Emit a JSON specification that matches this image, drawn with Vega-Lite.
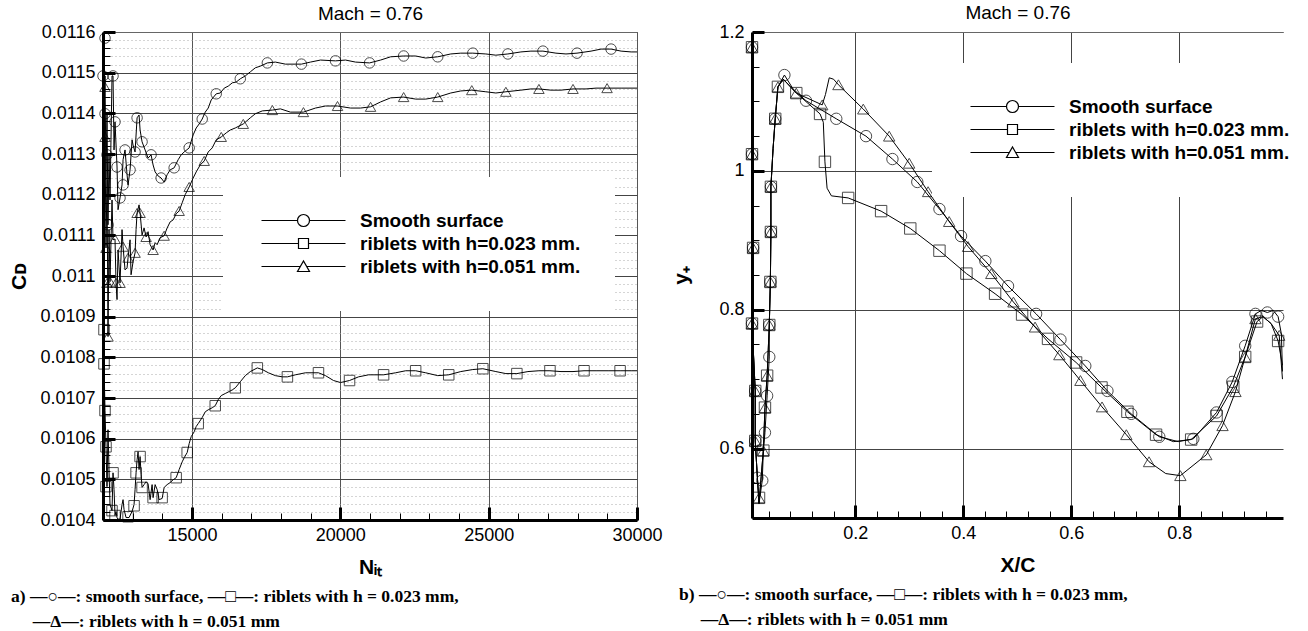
{
  "$schema": "https://vega.github.io/schema/vega-lite/v6.json",
  "padding": {"left": 8, "top": 3, "right": 0, "bottom": 0},
  "background": "white",
  "spacing": 6,
  "resolve": {"scale": {"shape": "independent"}, "legend": {"shape": "independent"}},
  "config": {
    "font": "Liberation Sans",
    "view": {"stroke": null},
    "axis": {"labelFont": "Liberation Sans", "labelFontSize": 18, "labelColor": "black", "titleColor": "black", "titleFont": "Liberation Sans", "domainColor": "black", "tickColor": "black", "labelOverlap": false, "labelFlush": false, "tickCount": 200},
    "title": {"orient": "bottom", "anchor": "start", "font": "Liberation Serif", "fontSize": 17.5, "fontWeight": "bold", "lineHeight": 25, "offset": 11, "color": "black"},
    "legend": {"orient": "none", "labelFont": "Liberation Sans", "labelFontSize": 19, "labelFontWeight": "bold", "labelColor": "black", "labelLimit": 500, "symbolSize": 100, "symbolStrokeWidth": 1.2, "symbolStrokeColor": "black", "symbolOpacity": 1, "labelOffset": 84, "rowPadding": 3, "padding": 34, "fillColor": "white"}
  },
  "datasets": {
    "cdl": [
      {"s":"a","n":12000,"cd":0.011585},{"s":"a","n":12034,"cd":0.011384},{"s":"a","n":12068,"cd":0.011492},{"s":"a","n":12101,"cd":0.011236},{"s":"a","n":12135,"cd":0.011399},{"s":"a","n":12169,"cd":0.011126},{"s":"a","n":12203,"cd":0.011298},{"s":"a","n":12236,"cd":0.011187},{"s":"a","n":12304,"cd":0.011492},{"s":"a","n":12338,"cd":0.011492},{"s":"a","n":12372,"cd":0.01131},{"s":"a","n":12405,"cd":0.011379},{"s":"a","n":12473,"cd":0.011268},{"s":"a","n":12507,"cd":0.011163},{"s":"a","n":12574,"cd":0.011192},{"s":"a","n":12642,"cd":0.011224},{"s":"a","n":12676,"cd":0.011286},{"s":"a","n":12743,"cd":0.01131},{"s":"a","n":12811,"cd":0.011249},{"s":"a","n":12845,"cd":0.011224},{"s":"a","n":12912,"cd":0.011261},{"s":"a","n":12980,"cd":0.011335},{"s":"a","n":13013,"cd":0.011322},{"s":"a","n":13081,"cd":0.011305},{"s":"a","n":13149,"cd":0.011389},{"s":"a","n":13216,"cd":0.011396},{"s":"a","n":13250,"cd":0.011359},{"s":"a","n":13317,"cd":0.01133},{"s":"a","n":13419,"cd":0.01131},{"s":"a","n":13520,"cd":0.01129},{"s":"a","n":13621,"cd":0.011298},{"s":"a","n":13689,"cd":0.011273},{"s":"a","n":13757,"cd":0.011256},{"s":"a","n":13858,"cd":0.011246},{"s":"a","n":13959,"cd":0.011241},{"s":"a","n":14061,"cd":0.011231},{"s":"a","n":14162,"cd":0.011249},{"s":"a","n":14263,"cd":0.011261},{"s":"a","n":14398,"cd":0.011266},{"s":"a","n":14534,"cd":0.011286},{"s":"a","n":14635,"cd":0.011298},{"s":"a","n":14736,"cd":0.011305},{"s":"a","n":14905,"cd":0.011315},{"s":"a","n":15040,"cd":0.011347},{"s":"a","n":15142,"cd":0.011364},{"s":"a","n":15243,"cd":0.011374},{"s":"a","n":15344,"cd":0.011386},{"s":"a","n":15446,"cd":0.011403},{"s":"a","n":15547,"cd":0.011413},{"s":"a","n":15648,"cd":0.011433},{"s":"a","n":15817,"cd":0.011448},{"s":"a","n":15952,"cd":0.01145},{"s":"a","n":16087,"cd":0.011462},{"s":"a","n":16223,"cd":0.011467},{"s":"a","n":16358,"cd":0.011475},{"s":"a","n":16493,"cd":0.011477},{"s":"a","n":16628,"cd":0.011485},{"s":"a","n":16797,"cd":0.011492},{"s":"a","n":16966,"cd":0.011502},{"s":"a","n":17135,"cd":0.011512},{"s":"a","n":17303,"cd":0.011516},{"s":"a","n":17540,"cd":0.011524},{"s":"a","n":17810,"cd":0.011526},{"s":"a","n":18148,"cd":0.011521},{"s":"a","n":18486,"cd":0.011521},{"s":"a","n":18688,"cd":0.011521},{"s":"a","n":18992,"cd":0.011526},{"s":"a","n":19330,"cd":0.011531},{"s":"a","n":19837,"cd":0.011529},{"s":"a","n":20175,"cd":0.011531},{"s":"a","n":20513,"cd":0.011526},{"s":"a","n":20986,"cd":0.011524},{"s":"a","n":21357,"cd":0.011531},{"s":"a","n":21695,"cd":0.011539},{"s":"a","n":22134,"cd":0.011541},{"s":"a","n":22539,"cd":0.011541},{"s":"a","n":22877,"cd":0.011536},{"s":"a","n":23283,"cd":0.011539},{"s":"a","n":23722,"cd":0.011546},{"s":"a","n":24059,"cd":0.011548},{"s":"a","n":24465,"cd":0.011548},{"s":"a","n":24904,"cd":0.011546},{"s":"a","n":25242,"cd":0.011543},{"s":"a","n":25647,"cd":0.011546},{"s":"a","n":26086,"cd":0.011551},{"s":"a","n":26424,"cd":0.011553},{"s":"a","n":26829,"cd":0.011553},{"s":"a","n":27268,"cd":0.011548},{"s":"a","n":27606,"cd":0.011546},{"s":"a","n":27978,"cd":0.011548},{"s":"a","n":28451,"cd":0.011553},{"s":"a","n":28789,"cd":0.011558},{"s":"a","n":29126,"cd":0.011558},{"s":"a","n":29464,"cd":0.011553},{"s":"a","n":29802,"cd":0.011551},{"s":"a","n":30000,"cd":0.011551},
      {"s":"b","n":12000,"cd":0.010868},{"s":"b","n":12034,"cd":0.010784},{"s":"b","n":12068,"cd":0.010669},{"s":"b","n":12101,"cd":0.01058},{"s":"b","n":12135,"cd":0.010482},{"s":"b","n":12169,"cd":0.010622},{"s":"b","n":12203,"cd":0.010524},{"s":"b","n":12236,"cd":0.010438},{"s":"b","n":12304,"cd":0.010423},{"s":"b","n":12338,"cd":0.010516},{"s":"b","n":12372,"cd":0.010475},{"s":"b","n":12405,"cd":0.010411},{"s":"b","n":12439,"cd":0.010421},{"s":"b","n":12473,"cd":0.010406},{"s":"b","n":12507,"cd":0.010402},{"s":"b","n":12574,"cd":0.010402},{"s":"b","n":12642,"cd":0.010438},{"s":"b","n":12676,"cd":0.01045},{"s":"b","n":12709,"cd":0.010426},{"s":"b","n":12777,"cd":0.010406},{"s":"b","n":12878,"cd":0.010406},{"s":"b","n":12980,"cd":0.010421},{"s":"b","n":13047,"cd":0.010438},{"s":"b","n":13081,"cd":0.010475},{"s":"b","n":13115,"cd":0.010516},{"s":"b","n":13149,"cd":0.010548},{"s":"b","n":13182,"cd":0.010568},{"s":"b","n":13216,"cd":0.010524},{"s":"b","n":13250,"cd":0.010556},{"s":"b","n":13284,"cd":0.010512},{"s":"b","n":13317,"cd":0.01048},{"s":"b","n":13385,"cd":0.010487},{"s":"b","n":13453,"cd":0.010494},{"s":"b","n":13520,"cd":0.010489},{"s":"b","n":13588,"cd":0.01045},{"s":"b","n":13655,"cd":0.010487},{"s":"b","n":13689,"cd":0.010455},{"s":"b","n":13757,"cd":0.010487},{"s":"b","n":13824,"cd":0.010475},{"s":"b","n":13892,"cd":0.01045},{"s":"b","n":13993,"cd":0.010453},{"s":"b","n":14061,"cd":0.01048},{"s":"b","n":14162,"cd":0.010487},{"s":"b","n":14263,"cd":0.010492},{"s":"b","n":14365,"cd":0.010499},{"s":"b","n":14466,"cd":0.010504},{"s":"b","n":14567,"cd":0.010524},{"s":"b","n":14669,"cd":0.010543},{"s":"b","n":14736,"cd":0.010553},{"s":"b","n":14838,"cd":0.010566},{"s":"b","n":14905,"cd":0.010588},{"s":"b","n":14973,"cd":0.010605},{"s":"b","n":15074,"cd":0.010617},{"s":"b","n":15142,"cd":0.01063},{"s":"b","n":15209,"cd":0.010637},{"s":"b","n":15344,"cd":0.010652},{"s":"b","n":15446,"cd":0.010666},{"s":"b","n":15547,"cd":0.010671},{"s":"b","n":15682,"cd":0.010676},{"s":"b","n":15783,"cd":0.010681},{"s":"b","n":15885,"cd":0.010696},{"s":"b","n":15986,"cd":0.010706},{"s":"b","n":16121,"cd":0.010711},{"s":"b","n":16256,"cd":0.010716},{"s":"b","n":16358,"cd":0.01072},{"s":"b","n":16459,"cd":0.010725},{"s":"b","n":16628,"cd":0.01074},{"s":"b","n":16797,"cd":0.010755},{"s":"b","n":16966,"cd":0.010765},{"s":"b","n":17202,"cd":0.010774},{"s":"b","n":17371,"cd":0.01077},{"s":"b","n":17574,"cd":0.010762},{"s":"b","n":17810,"cd":0.010755},{"s":"b","n":18047,"cd":0.010752},{"s":"b","n":18216,"cd":0.010752},{"s":"b","n":18486,"cd":0.010757},{"s":"b","n":18824,"cd":0.010762},{"s":"b","n":19263,"cd":0.010762},{"s":"b","n":19499,"cd":0.010755},{"s":"b","n":19769,"cd":0.010743},{"s":"b","n":20006,"cd":0.010738},{"s":"b","n":20310,"cd":0.010743},{"s":"b","n":20614,"cd":0.010752},{"s":"b","n":20952,"cd":0.010757},{"s":"b","n":21458,"cd":0.010757},{"s":"b","n":21864,"cd":0.010762},{"s":"b","n":22202,"cd":0.010767},{"s":"b","n":22539,"cd":0.010767},{"s":"b","n":22877,"cd":0.010762},{"s":"b","n":23283,"cd":0.010755},{"s":"b","n":23654,"cd":0.010757},{"s":"b","n":24059,"cd":0.010765},{"s":"b","n":24465,"cd":0.01077},{"s":"b","n":24803,"cd":0.010772},{"s":"b","n":25242,"cd":0.010765},{"s":"b","n":25580,"cd":0.01076},{"s":"b","n":25951,"cd":0.01076},{"s":"b","n":26323,"cd":0.010765},{"s":"b","n":26694,"cd":0.010767},{"s":"b","n":27066,"cd":0.010767},{"s":"b","n":27438,"cd":0.010765},{"s":"b","n":27843,"cd":0.010765},{"s":"b","n":28214,"cd":0.010767},{"s":"b","n":28620,"cd":0.010767},{"s":"b","n":29025,"cd":0.010767},{"s":"b","n":29430,"cd":0.010767},{"s":"b","n":29802,"cd":0.010767},{"s":"b","n":30000,"cd":0.010767},
      {"s":"c","n":12000,"cd":0.011465},{"s":"c","n":12034,"cd":0.011187},{"s":"c","n":12068,"cd":0.011342},{"s":"c","n":12101,"cd":0.011069},{"s":"c","n":12135,"cd":0.011236},{"s":"c","n":12169,"cd":0.010851},{"s":"c","n":12203,"cd":0.011114},{"s":"c","n":12236,"cd":0.010986},{"s":"c","n":12304,"cd":0.011187},{"s":"c","n":12338,"cd":0.011089},{"s":"c","n":12405,"cd":0.011091},{"s":"c","n":12439,"cd":0.010983},{"s":"c","n":12473,"cd":0.010942},{"s":"c","n":12507,"cd":0.011064},{"s":"c","n":12574,"cd":0.010983},{"s":"c","n":12642,"cd":0.011114},{"s":"c","n":12676,"cd":0.011072},{"s":"c","n":12743,"cd":0.011015},{"s":"c","n":12811,"cd":0.01102},{"s":"c","n":12845,"cd":0.011045},{"s":"c","n":12912,"cd":0.011089},{"s":"c","n":12946,"cd":0.011003},{"s":"c","n":13013,"cd":0.011035},{"s":"c","n":13081,"cd":0.011057},{"s":"c","n":13115,"cd":0.011114},{"s":"c","n":13149,"cd":0.011155},{"s":"c","n":13216,"cd":0.011175},{"s":"c","n":13250,"cd":0.011155},{"s":"c","n":13317,"cd":0.011101},{"s":"c","n":13385,"cd":0.011118},{"s":"c","n":13453,"cd":0.011096},{"s":"c","n":13520,"cd":0.011109},{"s":"c","n":13588,"cd":0.011077},{"s":"c","n":13689,"cd":0.011064},{"s":"c","n":13757,"cd":0.011082},{"s":"c","n":13824,"cd":0.011077},{"s":"c","n":13925,"cd":0.011094},{"s":"c","n":14061,"cd":0.011099},{"s":"c","n":14162,"cd":0.011118},{"s":"c","n":14263,"cd":0.011133},{"s":"c","n":14365,"cd":0.011138},{"s":"c","n":14466,"cd":0.011153},{"s":"c","n":14567,"cd":0.01116},{"s":"c","n":14669,"cd":0.01118},{"s":"c","n":14770,"cd":0.0112},{"s":"c","n":14905,"cd":0.011219},{"s":"c","n":15040,"cd":0.011241},{"s":"c","n":15142,"cd":0.011256},{"s":"c","n":15277,"cd":0.011273},{"s":"c","n":15412,"cd":0.011283},{"s":"c","n":15547,"cd":0.011305},{"s":"c","n":15682,"cd":0.011315},{"s":"c","n":15817,"cd":0.011335},{"s":"c","n":15986,"cd":0.011342},{"s":"c","n":16155,"cd":0.011352},{"s":"c","n":16290,"cd":0.011359},{"s":"c","n":16459,"cd":0.011364},{"s":"c","n":16729,"cd":0.011374},{"s":"c","n":16966,"cd":0.011389},{"s":"c","n":17135,"cd":0.011399},{"s":"c","n":17371,"cd":0.011406},{"s":"c","n":17709,"cd":0.011408},{"s":"c","n":17979,"cd":0.011411},{"s":"c","n":18317,"cd":0.011403},{"s":"c","n":18756,"cd":0.011403},{"s":"c","n":19161,"cd":0.011413},{"s":"c","n":19499,"cd":0.011418},{"s":"c","n":19905,"cd":0.011418},{"s":"c","n":20344,"cd":0.011413},{"s":"c","n":20681,"cd":0.011413},{"s":"c","n":21019,"cd":0.011416},{"s":"c","n":21357,"cd":0.011428},{"s":"c","n":21695,"cd":0.011438},{"s":"c","n":22134,"cd":0.01144},{"s":"c","n":22539,"cd":0.011435},{"s":"c","n":22877,"cd":0.011435},{"s":"c","n":23283,"cd":0.01144},{"s":"c","n":23722,"cd":0.01145},{"s":"c","n":24059,"cd":0.011455},{"s":"c","n":24431,"cd":0.011457},{"s":"c","n":24904,"cd":0.011453},{"s":"c","n":25242,"cd":0.01145},{"s":"c","n":25580,"cd":0.011453},{"s":"c","n":26086,"cd":0.011457},{"s":"c","n":26424,"cd":0.01146},{"s":"c","n":26694,"cd":0.01146},{"s":"c","n":27100,"cd":0.011457},{"s":"c","n":27438,"cd":0.011457},{"s":"c","n":27843,"cd":0.01146},{"s":"c","n":28282,"cd":0.01146},{"s":"c","n":28620,"cd":0.011462},{"s":"c","n":28991,"cd":0.011462},{"s":"c","n":29464,"cd":0.011462},{"s":"c","n":30000,"cd":0.011462}
    ],
    "cdm": [
      {"s":"a","n":12068,"cd":0.011585},{"s":"a","n":12000,"cd":0.011492},{"s":"a","n":12338,"cd":0.011492},{"s":"a","n":12068,"cd":0.011399},{"s":"a","n":12405,"cd":0.011379},{"s":"a","n":12135,"cd":0.011298},{"s":"a","n":12473,"cd":0.011268},{"s":"a","n":12676,"cd":0.011224},{"s":"a","n":12574,"cd":0.011192},{"s":"a","n":12169,"cd":0.011126},{"s":"a","n":12743,"cd":0.01131},{"s":"a","n":12912,"cd":0.011261},{"s":"a","n":13081,"cd":0.011305},{"s":"a","n":13149,"cd":0.011389},{"s":"a","n":13317,"cd":0.01133},{"s":"a","n":13621,"cd":0.011298},{"s":"a","n":13959,"cd":0.011241},{"s":"a","n":14398,"cd":0.011266},{"s":"a","n":14905,"cd":0.011315},{"s":"a","n":15344,"cd":0.011386},{"s":"a","n":15817,"cd":0.011448},{"s":"a","n":16628,"cd":0.011485},{"s":"a","n":17540,"cd":0.011524},{"s":"a","n":18688,"cd":0.011521},{"s":"a","n":19837,"cd":0.011529},{"s":"a","n":20986,"cd":0.011524},{"s":"a","n":22134,"cd":0.011541},{"s":"a","n":23283,"cd":0.011539},{"s":"a","n":24465,"cd":0.011548},{"s":"a","n":25647,"cd":0.011546},{"s":"a","n":26829,"cd":0.011553},{"s":"a","n":27978,"cd":0.011548},{"s":"a","n":29126,"cd":0.011558},
      {"s":"b","n":12034,"cd":0.010868},{"s":"b","n":12034,"cd":0.010784},{"s":"b","n":12068,"cd":0.010669},{"s":"b","n":12101,"cd":0.01058},{"s":"b","n":12101,"cd":0.010482},{"s":"b","n":12338,"cd":0.010516},{"s":"b","n":12304,"cd":0.010423},{"s":"b","n":12405,"cd":0.010411},{"s":"b","n":12845,"cd":0.010408},{"s":"b","n":13047,"cd":0.010435},{"s":"b","n":13115,"cd":0.010516},{"s":"b","n":13250,"cd":0.010556},{"s":"b","n":13317,"cd":0.01048},{"s":"b","n":13689,"cd":0.010455},{"s":"b","n":13993,"cd":0.010455},{"s":"b","n":14466,"cd":0.010504},{"s":"b","n":14838,"cd":0.010566},{"s":"b","n":15209,"cd":0.010637},{"s":"b","n":15783,"cd":0.010681},{"s":"b","n":16459,"cd":0.010725},{"s":"b","n":17202,"cd":0.010774},{"s":"b","n":18216,"cd":0.010752},{"s":"b","n":19263,"cd":0.010762},{"s":"b","n":20310,"cd":0.010743},{"s":"b","n":21458,"cd":0.010757},{"s":"b","n":22539,"cd":0.010767},{"s":"b","n":23654,"cd":0.010757},{"s":"b","n":24803,"cd":0.010772},{"s":"b","n":25951,"cd":0.01076},{"s":"b","n":27066,"cd":0.010767},{"s":"b","n":28214,"cd":0.010767},{"s":"b","n":29430,"cd":0.010767},
      {"s":"c","n":12068,"cd":0.011465},{"s":"c","n":12068,"cd":0.011342},{"s":"c","n":12101,"cd":0.011069},{"s":"c","n":12135,"cd":0.010983},{"s":"c","n":12169,"cd":0.010851},{"s":"c","n":12236,"cd":0.010986},{"s":"c","n":12405,"cd":0.011091},{"s":"c","n":12439,"cd":0.010983},{"s":"c","n":12574,"cd":0.010983},{"s":"c","n":12676,"cd":0.011072},{"s":"c","n":12845,"cd":0.011045},{"s":"c","n":13081,"cd":0.011057},{"s":"c","n":13149,"cd":0.011155},{"s":"c","n":13250,"cd":0.011155},{"s":"c","n":13453,"cd":0.011096},{"s":"c","n":13689,"cd":0.011064},{"s":"c","n":14061,"cd":0.011099},{"s":"c","n":14567,"cd":0.01116},{"s":"c","n":14905,"cd":0.011219},{"s":"c","n":15412,"cd":0.011283},{"s":"c","n":15986,"cd":0.011342},{"s":"c","n":16729,"cd":0.011374},{"s":"c","n":17709,"cd":0.011408},{"s":"c","n":18756,"cd":0.011403},{"s":"c","n":19905,"cd":0.011418},{"s":"c","n":21019,"cd":0.011416},{"s":"c","n":22134,"cd":0.01144},{"s":"c","n":23283,"cd":0.01144},{"s":"c","n":24431,"cd":0.011457},{"s":"c","n":25580,"cd":0.011453},{"s":"c","n":26694,"cd":0.01146},{"s":"c","n":27843,"cd":0.01146},{"s":"c","n":28991,"cd":0.011462}
    ],
    "ypl": [
      {"s":"a","x":0.009,"y":1.178},{"s":"a","x":0.009,"y":1.024},{"s":"a","x":0.011,"y":0.889},{"s":"a","x":0.009,"y":0.78},{"s":"a","x":0.015,"y":0.683},{"s":"a","x":0.015,"y":0.611},{"s":"a","x":0.019,"y":0.558},{"s":"a","x":0.022,"y":0.521},{"s":"a","x":0.028,"y":0.554},{"s":"a","x":0.03,"y":0.597},{"s":"a","x":0.033,"y":0.623},{"s":"a","x":0.037,"y":0.676},{"s":"a","x":0.041,"y":0.732},{"s":"a","x":0.041,"y":0.778},{"s":"a","x":0.043,"y":0.84},{"s":"a","x":0.044,"y":0.912},{"s":"a","x":0.044,"y":0.977},{"s":"a","x":0.048,"y":1.032},{"s":"a","x":0.052,"y":1.075},{"s":"a","x":0.057,"y":1.121},{"s":"a","x":0.069,"y":1.138},{"s":"a","x":0.085,"y":1.118},{"s":"a","x":0.109,"y":1.101},{"s":"a","x":0.165,"y":1.075},{"s":"a","x":0.22,"y":1.05},{"s":"a","x":0.269,"y":1.017},{"s":"a","x":0.315,"y":0.984},{"s":"a","x":0.356,"y":0.945},{"s":"a","x":0.396,"y":0.906},{"s":"a","x":0.441,"y":0.87},{"s":"a","x":0.483,"y":0.834},{"s":"a","x":0.535,"y":0.794},{"s":"a","x":0.58,"y":0.757},{"s":"a","x":0.626,"y":0.719},{"s":"a","x":0.667,"y":0.683},{"s":"a","x":0.711,"y":0.65},{"s":"a","x":0.763,"y":0.617},{"s":"a","x":0.798,"y":0.61},{"s":"a","x":0.826,"y":0.614},{"s":"a","x":0.869,"y":0.652},{"s":"a","x":0.898,"y":0.696},{"s":"a","x":0.922,"y":0.748},{"s":"a","x":0.941,"y":0.794},{"s":"a","x":0.952,"y":0.799},{"s":"a","x":0.963,"y":0.796},{"s":"a","x":0.974,"y":0.799},{"s":"a","x":0.983,"y":0.79},{"s":"a","x":0.989,"y":0.765},{"s":"a","x":0.991,"y":0.711},
      {"s":"b","x":0.009,"y":1.178},{"s":"b","x":0.009,"y":1.024},{"s":"b","x":0.011,"y":0.889},{"s":"b","x":0.009,"y":0.78},{"s":"b","x":0.015,"y":0.683},{"s":"b","x":0.015,"y":0.611},{"s":"b","x":0.019,"y":0.558},{"s":"b","x":0.022,"y":0.521},{"s":"b","x":0.026,"y":0.56},{"s":"b","x":0.03,"y":0.597},{"s":"b","x":0.033,"y":0.659},{"s":"b","x":0.037,"y":0.705},{"s":"b","x":0.041,"y":0.778},{"s":"b","x":0.043,"y":0.84},{"s":"b","x":0.044,"y":0.912},{"s":"b","x":0.044,"y":0.977},{"s":"b","x":0.048,"y":1.032},{"s":"b","x":0.052,"y":1.075},{"s":"b","x":0.057,"y":1.121},{"s":"b","x":0.067,"y":1.132},{"s":"b","x":0.091,"y":1.112},{"s":"b","x":0.135,"y":1.082},{"s":"b","x":0.141,"y":1.07},{"s":"b","x":0.144,"y":1.013},{"s":"b","x":0.148,"y":0.975},{"s":"b","x":0.156,"y":0.964},{"s":"b","x":0.187,"y":0.961},{"s":"b","x":0.248,"y":0.942},{"s":"b","x":0.302,"y":0.917},{"s":"b","x":0.356,"y":0.885},{"s":"b","x":0.406,"y":0.852},{"s":"b","x":0.459,"y":0.823},{"s":"b","x":0.509,"y":0.793},{"s":"b","x":0.557,"y":0.758},{"s":"b","x":0.609,"y":0.724},{"s":"b","x":0.656,"y":0.688},{"s":"b","x":0.704,"y":0.653},{"s":"b","x":0.757,"y":0.62},{"s":"b","x":0.789,"y":0.61},{"s":"b","x":0.822,"y":0.613},{"s":"b","x":0.869,"y":0.647},{"s":"b","x":0.9,"y":0.689},{"s":"b","x":0.922,"y":0.732},{"s":"b","x":0.944,"y":0.783},{"s":"b","x":0.955,"y":0.79},{"s":"b","x":0.97,"y":0.78},{"s":"b","x":0.983,"y":0.755},{"s":"b","x":0.991,"y":0.72},
      {"s":"c","x":0.009,"y":1.178},{"s":"c","x":0.009,"y":1.024},{"s":"c","x":0.011,"y":0.889},{"s":"c","x":0.009,"y":0.78},{"s":"c","x":0.015,"y":0.683},{"s":"c","x":0.015,"y":0.611},{"s":"c","x":0.019,"y":0.558},{"s":"c","x":0.022,"y":0.521},{"s":"c","x":0.026,"y":0.56},{"s":"c","x":0.03,"y":0.597},{"s":"c","x":0.033,"y":0.659},{"s":"c","x":0.037,"y":0.705},{"s":"c","x":0.041,"y":0.778},{"s":"c","x":0.043,"y":0.84},{"s":"c","x":0.044,"y":0.912},{"s":"c","x":0.044,"y":0.977},{"s":"c","x":0.048,"y":1.032},{"s":"c","x":0.052,"y":1.075},{"s":"c","x":0.057,"y":1.121},{"s":"c","x":0.067,"y":1.132},{"s":"c","x":0.091,"y":1.112},{"s":"c","x":0.139,"y":1.095},{"s":"c","x":0.145,"y":1.11},{"s":"c","x":0.152,"y":1.134},{"s":"c","x":0.16,"y":1.132},{"s":"c","x":0.169,"y":1.124},{"s":"c","x":0.215,"y":1.089},{"s":"c","x":0.263,"y":1.05},{"s":"c","x":0.3,"y":1.011},{"s":"c","x":0.335,"y":0.97},{"s":"c","x":0.374,"y":0.927},{"s":"c","x":0.409,"y":0.891},{"s":"c","x":0.452,"y":0.852},{"s":"c","x":0.493,"y":0.811},{"s":"c","x":0.533,"y":0.775},{"s":"c","x":0.578,"y":0.735},{"s":"c","x":0.617,"y":0.698},{"s":"c","x":0.657,"y":0.66},{"s":"c","x":0.702,"y":0.62},{"s":"c","x":0.744,"y":0.581},{"s":"c","x":0.775,"y":0.564},{"s":"c","x":0.802,"y":0.561},{"s":"c","x":0.85,"y":0.591},{"s":"c","x":0.88,"y":0.633},{"s":"c","x":0.904,"y":0.682},{"s":"c","x":0.922,"y":0.732},{"s":"c","x":0.941,"y":0.787},{"s":"c","x":0.955,"y":0.79},{"s":"c","x":0.97,"y":0.78},{"s":"c","x":0.985,"y":0.763},{"s":"c","x":0.991,"y":0.7}
    ],
    "ypm": [
      {"s":"a","x":0.009,"y":1.178},{"s":"a","x":0.009,"y":1.024},{"s":"a","x":0.011,"y":0.889},{"s":"a","x":0.009,"y":0.78},{"s":"a","x":0.015,"y":0.683},{"s":"a","x":0.015,"y":0.611},{"s":"a","x":0.019,"y":0.558},{"s":"a","x":0.028,"y":0.554},{"s":"a","x":0.033,"y":0.623},{"s":"a","x":0.037,"y":0.676},{"s":"a","x":0.041,"y":0.732},{"s":"a","x":0.041,"y":0.778},{"s":"a","x":0.043,"y":0.84},{"s":"a","x":0.044,"y":0.912},{"s":"a","x":0.044,"y":0.977},{"s":"a","x":0.052,"y":1.075},{"s":"a","x":0.069,"y":1.138},{"s":"a","x":0.109,"y":1.101},{"s":"a","x":0.165,"y":1.075},{"s":"a","x":0.22,"y":1.05},{"s":"a","x":0.269,"y":1.017},{"s":"a","x":0.315,"y":0.984},{"s":"a","x":0.356,"y":0.945},{"s":"a","x":0.396,"y":0.906},{"s":"a","x":0.441,"y":0.87},{"s":"a","x":0.483,"y":0.834},{"s":"a","x":0.535,"y":0.794},{"s":"a","x":0.58,"y":0.757},{"s":"a","x":0.626,"y":0.719},{"s":"a","x":0.667,"y":0.683},{"s":"a","x":0.711,"y":0.65},{"s":"a","x":0.763,"y":0.617},{"s":"a","x":0.826,"y":0.614},{"s":"a","x":0.869,"y":0.652},{"s":"a","x":0.898,"y":0.696},{"s":"a","x":0.922,"y":0.748},{"s":"a","x":0.941,"y":0.794},{"s":"a","x":0.963,"y":0.796},{"s":"a","x":0.983,"y":0.79},
      {"s":"b","x":0.009,"y":1.178},{"s":"b","x":0.009,"y":1.024},{"s":"b","x":0.011,"y":0.889},{"s":"b","x":0.009,"y":0.78},{"s":"b","x":0.015,"y":0.683},{"s":"b","x":0.015,"y":0.611},{"s":"b","x":0.022,"y":0.529},{"s":"b","x":0.03,"y":0.597},{"s":"b","x":0.033,"y":0.659},{"s":"b","x":0.037,"y":0.705},{"s":"b","x":0.041,"y":0.778},{"s":"b","x":0.043,"y":0.84},{"s":"b","x":0.044,"y":0.912},{"s":"b","x":0.044,"y":0.977},{"s":"b","x":0.052,"y":1.075},{"s":"b","x":0.057,"y":1.121},{"s":"b","x":0.091,"y":1.112},{"s":"b","x":0.135,"y":1.082},{"s":"b","x":0.144,"y":1.013},{"s":"b","x":0.187,"y":0.961},{"s":"b","x":0.248,"y":0.942},{"s":"b","x":0.302,"y":0.917},{"s":"b","x":0.356,"y":0.885},{"s":"b","x":0.406,"y":0.852},{"s":"b","x":0.459,"y":0.823},{"s":"b","x":0.509,"y":0.793},{"s":"b","x":0.557,"y":0.758},{"s":"b","x":0.609,"y":0.724},{"s":"b","x":0.656,"y":0.688},{"s":"b","x":0.704,"y":0.653},{"s":"b","x":0.757,"y":0.62},{"s":"b","x":0.822,"y":0.613},{"s":"b","x":0.869,"y":0.647},{"s":"b","x":0.9,"y":0.689},{"s":"b","x":0.922,"y":0.732},{"s":"b","x":0.944,"y":0.783},{"s":"b","x":0.983,"y":0.755},
      {"s":"c","x":0.009,"y":1.178},{"s":"c","x":0.009,"y":1.024},{"s":"c","x":0.011,"y":0.889},{"s":"c","x":0.009,"y":0.78},{"s":"c","x":0.015,"y":0.683},{"s":"c","x":0.015,"y":0.611},{"s":"c","x":0.022,"y":0.529},{"s":"c","x":0.03,"y":0.597},{"s":"c","x":0.033,"y":0.659},{"s":"c","x":0.037,"y":0.705},{"s":"c","x":0.041,"y":0.778},{"s":"c","x":0.043,"y":0.84},{"s":"c","x":0.044,"y":0.912},{"s":"c","x":0.044,"y":0.977},{"s":"c","x":0.052,"y":1.075},{"s":"c","x":0.057,"y":1.121},{"s":"c","x":0.091,"y":1.112},{"s":"c","x":0.139,"y":1.095},{"s":"c","x":0.169,"y":1.124},{"s":"c","x":0.215,"y":1.089},{"s":"c","x":0.263,"y":1.05},{"s":"c","x":0.3,"y":1.011},{"s":"c","x":0.335,"y":0.97},{"s":"c","x":0.374,"y":0.927},{"s":"c","x":0.409,"y":0.891},{"s":"c","x":0.452,"y":0.852},{"s":"c","x":0.493,"y":0.811},{"s":"c","x":0.533,"y":0.775},{"s":"c","x":0.578,"y":0.735},{"s":"c","x":0.617,"y":0.698},{"s":"c","x":0.657,"y":0.66},{"s":"c","x":0.702,"y":0.62},{"s":"c","x":0.744,"y":0.581},{"s":"c","x":0.802,"y":0.561},{"s":"c","x":0.85,"y":0.591},{"s":"c","x":0.88,"y":0.633},{"s":"c","x":0.904,"y":0.682},{"s":"c","x":0.922,"y":0.732},{"s":"c","x":0.941,"y":0.787},{"s":"c","x":0.985,"y":0.763}
    ]
  },
  "hconcat": [
    {
      "width": 534,
      "height": 488,
      "view": {"stroke": "#777", "strokeWidth": 1},
      "title": {"text": ["a) —○—: smooth surface, —□—: riblets with h =  0.023 mm,", "\u200b\u00a0\u00a0\u00a0\u00a0\u00a0—Δ—: riblets with h = 0.051 mm"], "dx": 2},
      "resolve": {"axis": {"x": "independent"}, "scale": {"shape": "independent"}, "legend": {"shape": "independent"}},
      "layer": [
        {
          "data": {"name": "cdl"},
          "mark": {"type": "line", "stroke": "black", "strokeWidth": 1, "clip": true},
          "encoding": {
            "x": {"field": "n", "type": "quantitative", "scale": {"domain": [12000, 30000], "nice": false, "zero": false},
              "axis": {"orient": "bottom", "title": "Nᵢₜ", "titleFontSize": 21, "titleFontWeight": "bold", "titlePadding": 6,
                "values": [12000,13000,14000,15000,16000,17000,18000,19000,20000,21000,22000,23000,24000,25000,26000,27000,28000,29000,30000],
                "labelExpr": "datum.value % 5000 == 0 ? format(datum.value, 'd') : ''",
                "grid": true, "gridColor": "#555",
                "gridOpacity": {"condition": {"test": "datum.value % 5000 == 0", "value": 1}, "value": 0},
                "tickSize": {"condition": {"test": "datum.value % 5000 == 0", "value": -13}, "value": -7},
                "tickWidth": {"condition": {"test": "datum.value % 5000 == 0", "value": 3}, "value": 1},
                "labelPadding": 19, "domainWidth": 3}},
            "y": {"field": "cd", "type": "quantitative", "scale": {"domain": [0.0104, 0.0116], "nice": false, "zero": false},
              "axis": {"title": "Cᴅ", "titleFontSize": 21, "titleFontWeight": "bold", "titlePadding": 10,
                "values": [0.0104,0.01042,0.01044,0.01046,0.01048,0.0105,0.01052,0.01054,0.01056,0.01058,0.0106,0.01062,0.01064,0.01066,0.01068,0.0107,0.01072,0.01074,0.01076,0.01078,0.0108,0.01082,0.01084,0.01086,0.01088,0.0109,0.01092,0.01094,0.01096,0.01098,0.011,0.01102,0.01104,0.01106,0.01108,0.0111,0.01112,0.01114,0.01116,0.01118,0.0112,0.01122,0.01124,0.01126,0.01128,0.0113,0.01132,0.01134,0.01136,0.01138,0.0114,0.01142,0.01144,0.01146,0.01148,0.0115,0.01152,0.01154,0.01156,0.01158,0.0116],
                "labelExpr": "abs(datum.value*10000 - round(datum.value*10000)) < 0.01 ? format(datum.value, '.4~f') : ''",
                "grid": true,
                "gridColor": {"condition": {"test": "abs(datum.value*10000 - round(datum.value*10000)) < 0.01", "value": "#444"}, "value": "#aaa"},
                "gridDash": {"condition": {"test": "abs(datum.value*10000 - round(datum.value*10000)) < 0.01", "value": []}, "value": [1, 3]},
                "tickSize": {"condition": {"test": "abs(datum.value*10000 - round(datum.value*10000)) < 0.01", "value": -12}, "value": -7},
                "tickWidth": {"condition": {"test": "abs(datum.value*10000 - round(datum.value*10000)) < 0.01", "value": 3}, "value": 1},
                "labelPadding": 20, "domainWidth": 3}},
            "detail": {"field": "s"},
            "order": {"value": null}
          }
        },
        {
          "data": {"name": "cdm"},
          "mark": {"type": "point", "filled": false, "stroke": "black", "strokeWidth": 1, "size": 110},
          "encoding": {
            "x": {"field": "n", "type": "quantitative",
              "axis": {"orient": "top", "title": "Mach = 0.76", "titleFontSize": 19, "titleFontWeight": "normal", "titlePadding": 9, "labels": false, "ticks": false, "grid": false, "domainWidth": 1, "domainColor": "#666"}},
            "y": {"field": "cd", "type": "quantitative"},
            "shape": {"field": "s", "type": "nominal", "scale": {"domain": ["a", "b", "c"], "range": ["circle", "square", "triangle-up"]}, "legend": null}
          }
        },
        {
          "data": {"name": "cdm"},
          "mark": {"type": "point", "filled": false, "stroke": "black", "strokeWidth": 1.2, "opacity": 0},
          "encoding": {
            "x": {"field": "n", "type": "quantitative", "axis": null},
            "y": {"field": "cd", "type": "quantitative"},
            "shape": {"field": "s", "type": "nominal",
              "scale": {"domain": ["a", "b", "c"], "range": ["M-1,0H6.2M8.6,0H15.8M6.2,0A1.2,1.2,0,1,0,8.6,0A1.2,1.2,0,1,0,6.2,0Z", "M-1,0H6.4M8.4,0H15.8M6.4,-1H8.4V1H6.4Z", "M-1,0H6.8M8,0H15.8M6.2,1H8.6L7.4,-1.1Z"]},
              "legend": {"orient": "none", "legendX": 120, "legendY": 145, "title": null, "symbolOpacity": 1,
                "labelExpr": "datum.value == 'a' ? 'Smooth surface' : datum.value == 'b' ? 'riblets with h=0.023 mm.' : 'riblets with h=0.051 mm.'"}}
          }
        }
      ]
    },
    {
      "width": 531,
      "height": 486,
      "title": {"text": ["b) —○—: smooth surface, —□—: riblets with h =  0.023 mm,", "\u200b\u00a0\u00a0\u00a0\u00a0\u00a0—Δ—: riblets with h = 0.051 mm"], "dx": 8},
      "resolve": {"axis": {"x": "independent"}, "scale": {"shape": "independent"}, "legend": {"shape": "independent"}},
      "layer": [
        {
          "data": {"name": "ypl"},
          "mark": {"type": "line", "stroke": "black", "strokeWidth": 1},
          "encoding": {
            "x": {"field": "x", "type": "quantitative", "scale": {"domain": [0.009, 0.992], "nice": false, "zero": false},
              "axis": {"orient": "bottom", "title": "X/C", "titleFontSize": 21, "titleFontWeight": "bold", "titlePadding": 6,
                "values": [0.04,0.08,0.12,0.16,0.2,0.24,0.28,0.32,0.36,0.4,0.44,0.48,0.52,0.56,0.6,0.64,0.68,0.72,0.76,0.8,0.84,0.88,0.92,0.96],
                "labelExpr": "abs(datum.value*5 - round(datum.value*5)) < 0.001 ? format(datum.value, '~g') : ''",
                "grid": true, "gridColor": "#444",
                "gridOpacity": {"condition": {"test": "abs(datum.value*5 - round(datum.value*5)) < 0.001", "value": 1}, "value": 0},
                "tickSize": {"condition": {"test": "abs(datum.value*5 - round(datum.value*5)) < 0.001", "value": -13}, "value": -7},
                "tickWidth": {"condition": {"test": "abs(datum.value*5 - round(datum.value*5)) < 0.001", "value": 3}, "value": 1},
                "labelPadding": 19, "domainWidth": 3}},
            "y": {"field": "y", "type": "quantitative", "scale": {"domain": [0.5, 1.2], "nice": false, "zero": false},
              "axis": {"title": "y₊", "titleFontSize": 21, "titleFontWeight": "bold", "titlePadding": 27,
                "values": [0.5,0.55,0.6,0.65,0.7,0.75,0.8,0.85,0.9,0.95,1,1.05,1.1,1.15,1.2],
                "labelExpr": "abs(datum.value*5 - round(datum.value*5)) < 0.001 ? format(datum.value, '~g') : ''",
                "grid": true, "gridColor": "#444",
                "gridOpacity": {"condition": {"test": "abs(datum.value*5 - round(datum.value*5)) < 0.001", "value": 1}, "value": 0},
                "tickSize": {"condition": {"test": "abs(datum.value*5 - round(datum.value*5)) < 0.001", "value": -12}, "value": -7},
                "tickWidth": {"condition": {"test": "abs(datum.value*5 - round(datum.value*5)) < 0.001", "value": 3}, "value": 1},
                "labelPadding": 20, "domainWidth": 3}},
            "detail": {"field": "s"},
            "order": {"value": null}
          }
        },
        {
          "data": {"name": "ypm"},
          "mark": {"type": "point", "filled": false, "stroke": "black", "strokeWidth": 1, "size": 130},
          "encoding": {
            "x": {"field": "x", "type": "quantitative",
              "axis": {"orient": "top", "title": "Mach = 0.76", "titleFontSize": 19, "titleFontWeight": "normal", "titlePadding": 10, "labels": false, "ticks": false, "grid": false, "domainWidth": 1, "domainColor": "#666"}},
            "y": {"field": "y", "type": "quantitative"},
            "shape": {"field": "s", "type": "nominal", "scale": {"domain": ["a", "b", "c"], "range": ["circle", "square", "triangle-up"]}, "legend": null}
          }
        },
        {
          "data": {"name": "ypm"},
          "mark": {"type": "point", "filled": false, "stroke": "black", "strokeWidth": 1.2, "opacity": 0},
          "encoding": {
            "x": {"field": "x", "type": "quantitative", "axis": null},
            "y": {"field": "y", "type": "quantitative"},
            "shape": {"field": "s", "type": "nominal",
              "scale": {"domain": ["a", "b", "c"], "range": ["M-1,0H6.2M8.6,0H15.8M6.2,0A1.2,1.2,0,1,0,8.6,0A1.2,1.2,0,1,0,6.2,0Z", "M-1,0H6.4M8.4,0H15.8M6.4,-1H8.4V1H6.4Z", "M-1,0H6.8M8,0H15.8M6.2,1H8.6L7.4,-1.1Z"]},
              "legend": {"orient": "none", "legendX": 180, "legendY": 31, "title": null, "symbolOpacity": 1,
                "labelExpr": "datum.value == 'a' ? 'Smooth surface' : datum.value == 'b' ? 'riblets with h=0.023 mm.' : 'riblets with h=0.051 mm.'"}}
          }
        }
      ]
    }
  ]
}
